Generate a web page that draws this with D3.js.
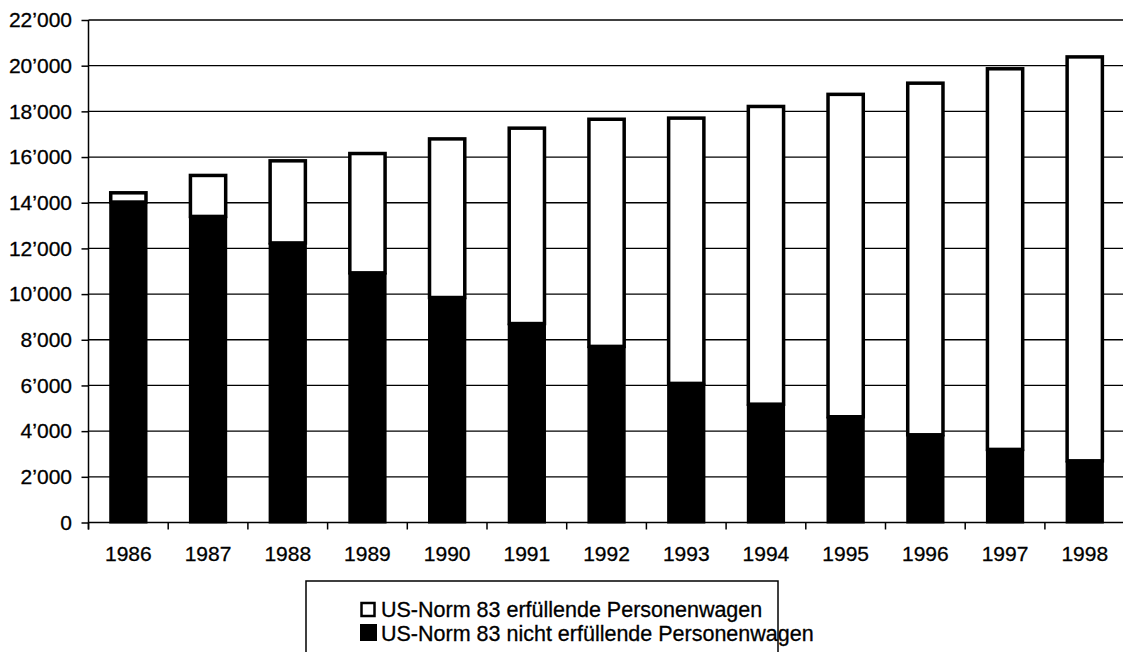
<!DOCTYPE html>
<html>
<head>
<meta charset="utf-8">
<script src="https://cdn.jsdelivr.net/npm/d3@7"></script>
<style>
  html, body { margin: 0; padding: 0; background: #fff; }
  svg { display: block; font-family: "Liberation Sans", Arial, sans-serif; }
</style>
</head>
<body>
<svg id="chart" width="1123" height="652"></svg>
<script>
// ---- data ----
const years = ["1986","1987","1988","1989","1990","1991","1992","1993","1994","1995","1996","1997","1998"];
// US-Norm 83 nicht erfüllende Personenwagen (black, bottom)
const nichtErfuellend = [14030, 13400, 12240, 10930, 9850, 8710, 7710, 6090, 5180, 4630, 3840, 3200, 2700];
// US-Norm 83 erfüllende Personenwagen (white, top)
const erfuellend = [470, 1860, 3660, 5290, 7010, 8620, 10010, 11680, 13100, 14180, 15460, 16730, 17750];
const yTicks = [0, 2000, 4000, 6000, 8000, 10000, 12000, 14000, 16000, 18000, 20000, 22000];
const seriesNames = ["US-Norm 83 erfüllende Personenwagen", "US-Norm 83 nicht erfüllende Personenwagen"];

(function () {
const svg = d3.select("#chart");
const mLeft = 88.5, mTop = 20, mBottom = 522.5, mRight = 1124.6;

const rows = years.map((yr, i) => ({ year: yr, nicht: nichtErfuellend[i], erf: erfuellend[i] }));
const stacked = d3.stack().keys(["nicht", "erf"])(rows);

const x = d3.scaleBand().domain(years).range([mLeft, mRight]).paddingInner(0.52).paddingOuter(0.26);
const y = d3.scaleLinear().domain([0, 22000]).range([mBottom, mTop]);

const fmt = v => { const s = String(v); return s.length > 3 ? s.slice(0, -3) + "\u2019" + s.slice(-3) : s; };

// gridlines
svg.append("g").selectAll("line").data(yTicks.filter(d => d > 0)).join("line")
  .attr("x1", mLeft).attr("x2", 1123)
  .attr("y1", d => y(d)).attr("y2", d => y(d))
  .attr("stroke", "#000").attr("stroke-width", 1.3);

// y axis
const yAxis = d3.axisLeft(y).tickValues(yTicks).tickSize(7).tickPadding(9.5).tickFormat(fmt);
const gy = svg.append("g").attr("transform", `translate(${mLeft},0)`).call(yAxis);
gy.select(".domain").attr("stroke", "#000").attr("stroke-width", 1.5).attr("d", `M0,${mTop}V${mBottom + 7}`);
gy.selectAll(".tick line").attr("stroke", "#000").attr("stroke-width", 1.5);
gy.selectAll(".tick text").attr("font-size", 21).attr("fill", "#000")
  .attr("stroke", "#000").attr("stroke-width", 0.3)
  .attr("font-family", "'Liberation Sans', Arial, sans-serif");

// x axis with ticks at band boundaries
const bounds = d3.range(years.length + 1).map(i => mLeft + i * x.step());
svg.append("line").attr("x1", mLeft).attr("x2", 1123).attr("y1", mBottom).attr("y2", mBottom)
  .attr("stroke", "#000").attr("stroke-width", 1.5);
svg.append("g").selectAll("line").data(bounds).join("line")
  .attr("x1", d => d).attr("x2", d => d).attr("y1", mBottom).attr("y2", mBottom + 7)
  .attr("stroke", "#000").attr("stroke-width", 1.5);
svg.append("g").selectAll("text").data(years).join("text")
  .attr("x", d => x(d) + x.bandwidth() / 2).attr("y", 561)
  .attr("text-anchor", "middle").attr("font-size", 21).attr("fill", "#000")
  .attr("stroke", "#000").attr("stroke-width", 0.3)
  .text(d => d);

// bars: white (erfüllend) segment first, then black
const sNicht = stacked[0], sErf = stacked[1];
svg.append("g").selectAll("rect").data(sErf).join("rect")
  .attr("x", (d, i) => x(years[i]) + 1.5)
  .attr("width", x.bandwidth() - 3)
  .attr("y", d => y(d[1]) + 1.5)
  .attr("height", d => y(d[0]) - y(d[1]) - 1.5)
  .attr("fill", "#fff").attr("stroke", "#000").attr("stroke-width", 3.5);
svg.append("g").selectAll("rect").data(sNicht).join("rect")
  .attr("x", (d, i) => x(years[i]))
  .attr("width", x.bandwidth())
  .attr("y", d => y(d[1]))
  .attr("height", d => y(d[0]) - y(d[1]) + 1)
  .attr("fill", "#000");

// legend
const lg = svg.append("g");
lg.append("rect").attr("x", 306).attr("y", 581).attr("width", 472).attr("height", 90)
  .attr("fill", "none").attr("stroke", "#000").attr("stroke-width", 1.5);
lg.append("rect").attr("x", 361.5).attr("y", 603).attr("width", 13).attr("height", 13)
  .attr("fill", "#fff").attr("stroke", "#000").attr("stroke-width", 2.5);
lg.append("rect").attr("x", 360).attr("y", 624).attr("width", 17).attr("height", 17)
  .attr("fill", "#000");
lg.selectAll("text").data(seriesNames).join("text")
  .attr("x", 381).attr("y", (d, i) => 617 + i * 24)
  .attr("font-size", 21.5).attr("fill", "#000")
  .attr("stroke", "#000").attr("stroke-width", 0.3)
  .text(d => d);
})();
</script>
</body>
</html>
